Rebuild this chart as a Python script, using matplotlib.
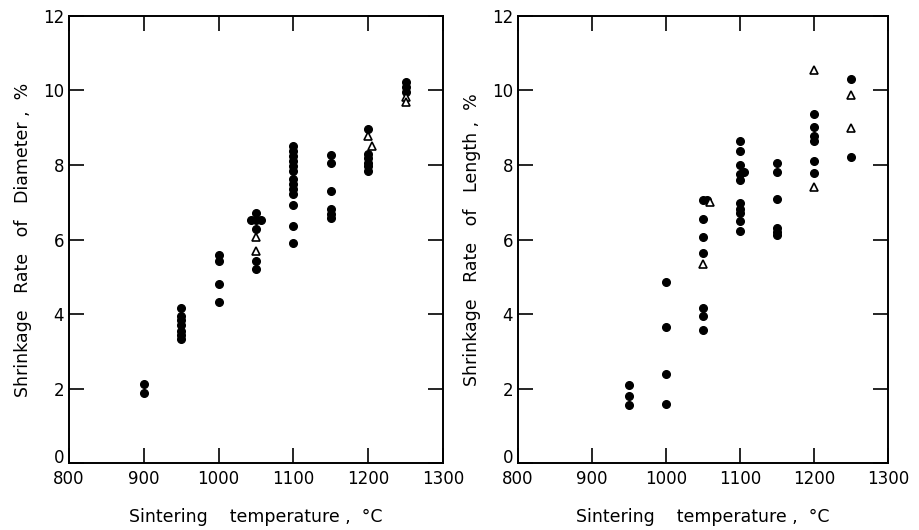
import matplotlib
matplotlib.use('Agg')
import matplotlib.pyplot as plt
import matplotlib.transforms as mtransforms

# shrinkage rate of diameter (%), solid circles and open triangles
dia_circ_t = [900, 900,
              950, 950, 950, 950, 950, 950, 950,
              1000, 1000, 1000, 1000,
              1050, 1043, 1050, 1057, 1050, 1050, 1050,
              1100, 1100, 1100, 1100, 1100, 1100, 1100, 1100, 1100, 1100, 1100, 1100, 1100,
              1150, 1150, 1150, 1150, 1150, 1150,
              1200, 1200, 1200, 1200, 1200, 1200,
              1250, 1250, 1250]
dia_circ_v = [2.12, 1.89,
              4.17, 3.96, 3.83, 3.70, 3.56, 3.43, 3.32,
              5.59, 5.43, 4.81, 4.32,
              6.71, 6.53, 6.53, 6.53, 6.27, 5.42, 5.21,
              8.50, 8.37, 8.24, 8.10, 7.97, 7.84, 7.62, 7.49, 7.36, 7.22, 6.93, 6.37, 5.92,
              8.28, 8.05, 7.30, 6.81, 6.68, 6.59,
              8.96, 8.30, 8.20, 8.05, 7.96, 7.83,
              10.23, 10.10, 9.96]
dia_tri_t = [1050, 1050, 1200, 1205, 1250, 1250]
dia_tri_v = [6.08, 5.70, 8.78, 8.50, 9.83, 9.70]

# shrinkage rate of length (%)
len_circ_t = [950, 950, 950,
              1000, 1000, 1000, 1000,
              1050, 1055, 1050, 1050, 1050, 1050, 1050, 1050,
              1100, 1100, 1100, 1105, 1100, 1100, 1100, 1100, 1100, 1100, 1100,
              1150, 1150, 1150, 1150, 1150, 1150,
              1200, 1200, 1200, 1200, 1200, 1200,
              1250, 1250]
len_circ_v = [2.10, 1.79, 1.55,
              4.85, 3.65, 2.40, 1.60,
              7.05, 7.05, 6.54, 6.08, 5.63, 4.16, 3.96, 3.57,
              8.64, 8.37, 7.99, 7.81, 7.75, 7.59, 6.97, 6.81, 6.72, 6.50, 6.23,
              8.06, 7.81, 7.09, 6.32, 6.19, 6.12,
              9.38, 9.02, 8.77, 8.64, 8.10, 7.79,
              10.31, 8.21]
len_tri_t = [1050, 1060, 1200, 1200, 1250, 1250]
len_tri_v = [5.34, 7.00, 10.55, 7.42, 9.87, 8.98]

xticks = [800, 900, 1000, 1100, 1200, 1300]
yticks = [0, 2, 4, 6, 8, 10, 12]

plt.rcParams['font.family'] = ['DejaVu Sans']

fig = plt.figure(figsize=(9.19, 5.30), dpi=100)
ax1 = fig.add_axes([0.075, 0.126, 0.407, 0.844])
ax2 = fig.add_axes([0.5637, 0.126, 0.4026, 0.844])

panels = [
    (ax1, dia_circ_t, dia_circ_v, dia_tri_t, dia_tri_v, 'Shrinkage   Rate   of   Diameter ,  %'),
    (ax2, len_circ_t, len_circ_v, len_tri_t, len_tri_v, 'Shrinkage   Rate   of   Length ,  %'),
]

for ax, ct, cv, tt, tv, ylab in panels:
    ax.plot(ct, cv, 'o', color='black', markersize=5.5, linestyle='none')
    ax.plot(tt, tv, '^', markerfacecolor='white', markeredgecolor='black',
            markeredgewidth=1.2, markersize=5.5, linestyle='none')
    ax.set_xlim(800, 1300)
    ax.set_ylim(0, 12)
    ax.set_xticks(xticks)
    ax.set_yticks(yticks)
    ax.tick_params(direction='in', length=11, width=1.2, top=True, right=True,
                   labelsize=12)
    ax.tick_params(axis='x', pad=5)
    for s in ax.spines.values():
        s.set_linewidth(1.4)
    ax.set_xlabel('Sintering    temperature ,  °C', fontsize=12.5, labelpad=14)
    ax.set_ylabel(ylab, fontsize=12.5, labelpad=8)
    # the "0" sits a little above the corner, as in the original
    lab0 = ax.get_yticklabels()[0]
    lab0.set_transform(lab0.get_transform() +
                       mtransforms.ScaledTranslation(0, 5 / 72, fig.dpi_scale_trans))

fig.savefig('out.png', dpi=100)
